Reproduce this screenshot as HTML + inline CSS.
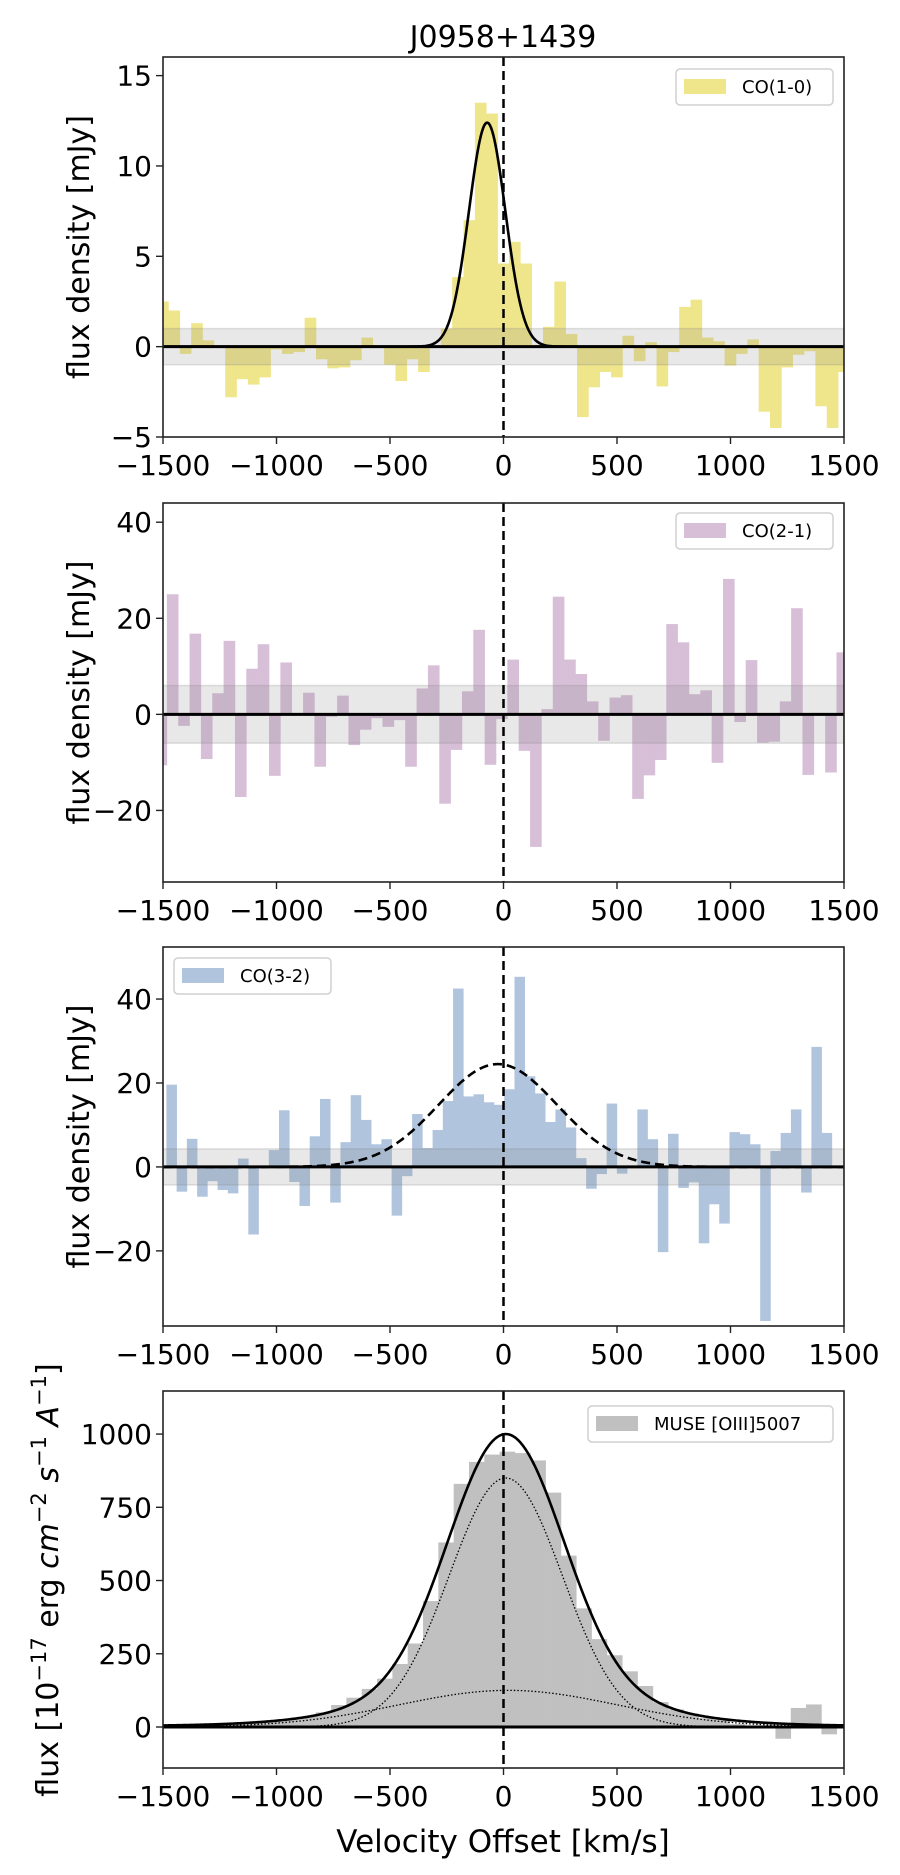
<!DOCTYPE html>
<html><head><meta charset="utf-8">
<style>
html,body{margin:0;padding:0;background:#fff;}
svg{display:block;font-family:"DejaVu Sans","Liberation Sans",sans-serif;}
</style></head>
<body>
<svg id="fig" width="900" height="1875" viewBox="0 0 900 1875" xmlns="http://www.w3.org/2000/svg">
<text x="503" y="47" font-size="30" text-anchor="middle">J0958+1439</text>
<text x="503" y="1852" font-size="31" text-anchor="middle">Velocity Offset [km/s]</text>
</svg>
<script>
// ---- data ----
const co10Start = -1526, co10Width = 50;
const co10Values = [2.5,2.0,-0.4,1.3,0.35,0,-2.8,-1.8,-2.1,-1.7,-0.15,-0.4,-0.3,1.6,-0.7,-1.2,-1.15,-0.75,0.5,0,-1.0,-1.9,-0.7,-1.4,0,1.0,3.85,7.0,13.5,12.9,4.6,5.8,4.6,0.1,1.1,3.6,0.7,-3.9,-2.25,-1.4,-1.7,0.6,-0.8,0.25,-2.2,-0.3,2.2,2.6,0.5,0.3,-1.05,-0.4,0.4,-3.6,-4.5,-1.15,-0.45,-0.25,-3.3,-4.5,-1.4];
const co10Fit = [12.4, -72, 80];
const co21Start = -1533, co21Width = 50;
const co21Values = [-10.6,25,-2.4,16.8,-9.3,4.4,15.3,-17.2,9.5,14.6,-12.8,10.8,0.2,4.5,-10.9,-0.5,3.9,-6.4,-3.2,-0.8,-2.6,-1.2,-10.9,5.4,10.2,-18.6,-7.4,4.8,17.6,-10.5,-1.0,11.4,-7.6,-27.6,1.1,24.5,11.4,8.4,2.7,-5.5,3.5,4.0,-17.6,-12.7,-9.5,18.8,15.0,4.2,5.0,-10.1,28.2,-1.6,11.3,-5.9,-5.7,2.7,22.1,-12.6,0.3,-12.1,12.9];
const co32Start = -1485, co32Width = 45.1;
const co32Values = [19.6,-5.9,6.7,-7.1,-3.4,-5.5,-6.3,2.0,-16.1,0.2,4.0,13.5,-3.6,-9.3,7.3,16.2,-8.5,5.9,17.1,11.2,5.4,6.6,-11.6,-2.2,12.6,4.5,8.8,15.7,42.5,16.8,17.3,15.4,14.8,18.5,45.3,21.6,17.5,10.7,13.7,9.4,2.1,-5.2,-1.7,15.1,-1.6,0.1,13.7,6.6,-20.3,7.9,-5.0,-3.7,-18.2,-8.9,-13.5,8.3,7.8,5.4,-36.7,3.8,8.1,13.7,-6.1,28.6,8.1];
const co32Fit = [24.5, -25, 260];
const museStart = -1502, museWidth = 67.5;
const museValues = [2,3,5,8,10,12,15,20,25,35,50,75,100,130,165,215,285,430,630,830,905,930,940,935,910,800,585,405,300,245,190,140,85,60,45,30,25,10,5,0,-40,65,77,-25,0];
const museNarrow = [850, 10, 250];
const museBroad = [125, 20, 480];
const museWing = [25, 700];
const xTicks = [-1500,-1000,-500,0,500,1000,1500];
const yTicks1 = [-5,0,5,10,15];
const yTicks2 = [-20,0,20,40];
const yTicks3 = [-20,0,20,40];
const yTicks4 = [0,250,500,750,1000];

const NS = "http://www.w3.org/2000/svg";
const svg = document.getElementById('fig');
function mk(tag, attrs, parent){ const e=document.createElementNS(NS,tag); for(const k in attrs) e.setAttribute(k,attrs[k]); (parent||svg).appendChild(e); return e; }
const X0=163, X1=844;
function xs(v){ return X0 + (v+1500)/3000*(X1-X0); }
function fmt(v){ return v<0 ? '\u2212'+Math.abs(v) : String(v); }
function gauss(p,v){ return p[0]*Math.exp(-0.5*Math.pow((v-p[1])/p[2],2)); }
function lor(p,v){ return p[0]/(1+Math.pow(v/p[1],2)); }

function panel(cfg){
  const ys = v => cfg.top + (cfg.ymax - v)/(cfg.ymax-cfg.ymin)*(cfg.bot-cfg.top);
  const g = mk('g',{});
  
  
  const cid = 'clip-'+cfg.name;
  const cp = mk('clipPath',{id:cid}, g);
  mk('rect',{x:X0,y:cfg.top,width:X1-X0,height:cfg.bot-cfg.top},cp);
  const plot = mk('g',{'clip-path':'url(#'+cid+')'},g);
  cfg.values.forEach((val,i)=>{
    const a = cfg.start + i*cfg.width, b = a + cfg.width;
    const y0 = ys(0), y1 = ys(val);
    const r = mk('rect',{x:xs(a),y:Math.min(y0,y1),width:xs(b)-xs(a)+0.3,height:Math.abs(y1-y0),fill:cfg.color},plot);
    
    
  });
  if(cfg.band){
    const b = mk('rect',{x:X0,y:ys(cfg.band),width:X1-X0,height:ys(-cfg.band)-ys(cfg.band),fill:'rgba(140,140,140,0.2)',stroke:'rgba(140,140,140,0.25)','stroke-width':1.5},plot);
    
    
  }
  mk('line',{x1:X0,x2:X1,y1:ys(0),y2:ys(0),stroke:'#000','stroke-width':3},plot);
  (cfg.fits||[]).forEach(f=>{
    let d='';
    for(let v=-1500; v<=1500; v+=5){ d += (d?'L':'M') + xs(v).toFixed(2)+','+ys(f.fn(v)).toFixed(2); }
    const p = mk('path',{d:d,fill:'none',stroke:'#000','stroke-width':f.w,'stroke-dasharray':f.dash||'none'},plot);
    
    
  });
  const vl = mk('line',{x1:xs(0),x2:xs(0),y1:cfg.top,y2:cfg.bot,stroke:'#000','stroke-width':2.5,'stroke-dasharray':'9,5'},plot);
  
  
  mk('rect',{x:X0,y:cfg.top,width:X1-X0,height:cfg.bot-cfg.top,fill:'none',stroke:'#222','stroke-width':1.6},g);
  xTicks.forEach(t=>{
    mk('line',{x1:xs(t),x2:xs(t),y1:cfg.bot,y2:cfg.bot+7,stroke:'#222','stroke-width':1.4},g);
    const tx = mk('text',{x:xs(t),y:cfg.bot+38,'font-size':28,'text-anchor':'middle'},g);
    tx.textContent = fmt(t);
    
    
  });
  cfg.yTicks.forEach(t=>{
    mk('line',{x1:X0-7,x2:X0,y1:ys(t),y2:ys(t),stroke:'#222','stroke-width':1.4},g);
    const tx = mk('text',{x:X0-11,y:ys(t)+10,'font-size':28,'text-anchor':'end'},g);
    tx.textContent = fmt(t);
    
    
  });
  const L = cfg.legend;
  const lg = mk('g',{},g);
  
  
  mk('rect',{x:L.x,y:L.y,width:L.w,height:36,rx:4,fill:'#fff','fill-opacity':0.8,stroke:'#d0d0d0','stroke-width':1.5},lg);
  mk('rect',{x:L.x+8,y:L.y+10,width:42,height:15,fill:cfg.color},lg);
  const lt = mk('text',{x:L.x+66,y:L.y+24,'font-size':18},lg);
  lt.textContent = L.text;
  if(cfg.ylabel){
    const cy=(cfg.top+cfg.bot)/2;
    const yl = mk('text',{x:0,y:0,'font-size':30,'text-anchor':'middle',transform:'translate(89,'+cy+') rotate(-90)'},g);
    yl.textContent = cfg.ylabel;
    
    
  }
  return ys;
}

panel({name:'co10-panel',barName:'co10',top:57,bot:437,ymin:-5,ymax:16.03,values:co10Values,start:co10Start,width:co10Width,color:'#efe58a',band:1,yTicks:yTicks1,
  fits:[{name:'co10-gaussian-fit',w:2.6,fn:v=>gauss(co10Fit,v)}],
  legend:{x:676,y:69,w:157,text:'CO(1-0)'},ylabel:'flux density [mJy]'});
panel({name:'co21-panel',barName:'co21',top:503,bot:882,ymin:-34.9,ymax:44,values:co21Values,start:co21Start,width:co21Width,color:'#d8bfd8',band:6,yTicks:yTicks2,
  legend:{x:676,y:513,w:157,text:'CO(2-1)'},ylabel:'flux density [mJy]'});
panel({name:'co32-panel',barName:'co32',top:947,bot:1326,ymin:-37.9,ymax:52.4,values:co32Values,start:co32Start,width:co32Width,color:'#b0c4de',band:4.3,yTicks:yTicks3,
  fits:[{name:'co32-gaussian-fit',w:2.6,dash:'9,5',fn:v=>gauss(co32Fit,v)}],
  legend:{x:174,y:958,w:157,text:'CO(3-2)'},ylabel:'flux density [mJy]'});
panel({name:'muse-panel',barName:'muse',top:1391,bot:1768,ymin:-140,ymax:1147,values:museValues,start:museStart,width:museWidth,color:'#c0c0c0',band:0,yTicks:yTicks4,
  fits:[
    {name:'narrow-component',w:1.3,dash:'1.5,2',fn:v=>gauss(museNarrow,v)},
    {name:'broad-component',w:1.3,dash:'1.5,2',fn:v=>gauss(museBroad,v)},
    {name:'total-fit',w:2.6,fn:v=>gauss(museNarrow,v)+gauss(museBroad,v)+lor(museWing,v)}
  ],
  legend:{x:588,y:1406,w:245,text:'MUSE [OIII]5007'}});

const yl4 = mk('text',{x:0,y:0,'font-size':30,'text-anchor':'middle',transform:'translate(58,1580) rotate(-90)'});


yl4.innerHTML = 'flux  [10<tspan font-size="21" dy="-12">\u221217</tspan><tspan dy="12"> erg </tspan><tspan font-style="italic">cm</tspan><tspan font-size="21" dy="-12">\u22122</tspan><tspan dy="12"> </tspan><tspan font-style="italic">s</tspan><tspan font-size="21" dy="-12">\u22121</tspan><tspan dy="12"> </tspan><tspan font-style="italic">A</tspan><tspan font-size="21" dy="-12">\u22121</tspan><tspan dy="12">]</tspan>';
</script>
</body></html>
